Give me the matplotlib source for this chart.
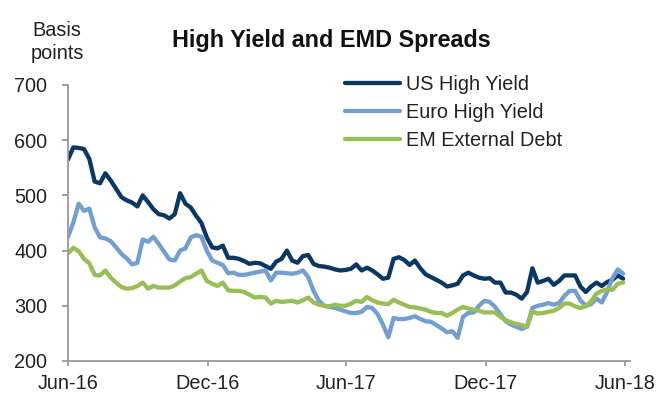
import matplotlib
matplotlib.use("Agg")
import matplotlib.pyplot as plt
import pandas as pd

plt.rcParams['font.family'] = ['Liberation Sans', 'DejaVu Sans']

dates = pd.date_range("2016-06-01", periods=105, freq="7D")

us_high_yield = [
    565, 587, 586, 584, 566, 525, 522, 540, 527, 512,
    497, 491, 487, 480, 500, 488, 475, 466, 464, 458,
    466, 504, 485, 478, 463, 450, 424, 406, 404, 409,
    387, 387, 385, 381, 376, 378, 377, 372, 367, 380,
    385, 400, 382, 378, 390, 392, 376, 372, 371, 369,
    366, 364, 365, 367, 375, 364, 369, 364, 357, 349,
    351, 385, 388, 383, 374, 382, 368, 357, 352, 347,
    342, 335, 337, 340, 355, 360, 355, 351, 349, 350,
    342, 342, 324, 324, 320, 313, 325, 368, 342, 345,
    349, 338, 345, 355, 355, 355, 335, 325, 335, 342,
    336, 343, 347, 355, 349,
]

euro_high_yield = [
    425, 451, 485, 472, 476, 442, 424, 422, 417, 406,
    394, 386, 375, 378, 420, 416, 425, 412, 398, 384,
    382, 400, 404, 424, 428, 425, 400, 382, 378, 374,
    359, 360, 356, 356, 358, 360, 362, 364, 346, 360,
    360, 359, 358, 360, 364, 352, 327, 309, 300, 298,
    296, 293, 290, 287, 287, 289, 298, 296, 285, 266,
    243, 278, 276, 276, 278, 281, 276, 272, 271, 265,
    259, 252, 254, 242, 280, 287, 288, 300, 309, 307,
    298, 285, 272, 266, 262, 258, 262, 296, 300, 302,
    305, 302, 305, 318, 327, 327, 310, 300, 303, 313,
    306, 325, 350, 366, 358,
]

em_external_debt = [
    395, 405, 399, 385, 377, 356, 355, 364, 351, 342,
    334, 331, 332, 336, 342, 331, 336, 333, 333, 333,
    337, 344, 350, 352, 358, 364, 345, 340, 336, 342,
    328, 327, 327, 325, 320, 315, 316, 315, 304, 309,
    307, 308, 309, 306, 310, 315, 306, 302, 300, 299,
    302, 300, 300, 304, 309, 307, 316, 310, 306, 304,
    303, 311, 306, 302, 298, 297, 295, 293, 289, 287,
    287, 282, 287, 293, 298, 295, 293, 291, 288, 288,
    288, 280, 274, 270, 267, 265, 262, 290, 286, 287,
    289, 291, 296, 304, 304, 299, 296, 299, 308, 322,
    327, 330, 329, 340, 342,
]

series_names = ["US High Yield", "Euro High Yield", "EM External Debt"]
series_colors = ["#0A3863", "#729FCF", "#98BE55"]
x_tick_dates = ["2016-06-01", "2016-12-01", "2017-06-01", "2017-12-01", "2018-06-01"]
x_tick_labels = ["Jun-16", "Dec-16", "Jun-17", "Dec-17", "Jun-18"]
y_ticks = [200, 300, 400, 500, 600, 700]

fig = plt.figure(figsize=(6.7, 3.94), dpi=100)
ax = fig.add_axes([68 / 670, 1 - 361 / 394, 562 / 670, (361 - 85) / 394])

for vals, name, col in zip([us_high_yield, euro_high_yield, em_external_debt],
                           series_names, series_colors):
    ax.plot(dates, vals, color=col, lw=3.1, label=name,
            solid_joinstyle="round", solid_capstyle="round")

ax.set_xlim(pd.Timestamp("2016-06-01"), pd.Timestamp("2018-06-08"))
ax.set_ylim(200, 700)
ax.set_yticks(y_ticks)
ax.set_xticks([pd.Timestamp(d) for d in x_tick_dates])
ax.set_xticklabels(x_tick_labels)

for s in ["top", "right"]:
    ax.spines[s].set_visible(False)
for s in ["left", "bottom"]:
    ax.spines[s].set_color("#999999")
    ax.spines[s].set_linewidth(1.3)

ax.tick_params(axis="y", direction="out", length=4.5, width=1.3, color="#999999",
               labelsize=14.3, labelcolor="#222222", pad=10.5)
ax.tick_params(axis="x", direction="out", length=3.5, width=1.3, color="#999999",
               labelsize=14.3, labelcolor="#222222", pad=6)

fig.text(57 / 670, 1 - 42 / 394, "Basis\npoints", ha="center", va="center",
         fontsize=14.3, color="#222222", linespacing=1.3)
fig.text(331 / 670, 1 - 41 / 394, "High Yield and EMD Spreads", ha="center",
         va="center", fontsize=16.8, fontweight="bold", color="#111111")

leg = ax.legend(loc="upper left", bbox_to_anchor=(345 / 670, 1 - 75 / 394),
                bbox_transform=fig.transFigure, frameon=False, fontsize=14.3,
                handlelength=2.75, handletextpad=0.3, labelspacing=0.45,
                borderpad=0, borderaxespad=0)
for t in leg.get_texts():
    t.set_color("#222222")

fig.savefig("out.png", dpi=100)
